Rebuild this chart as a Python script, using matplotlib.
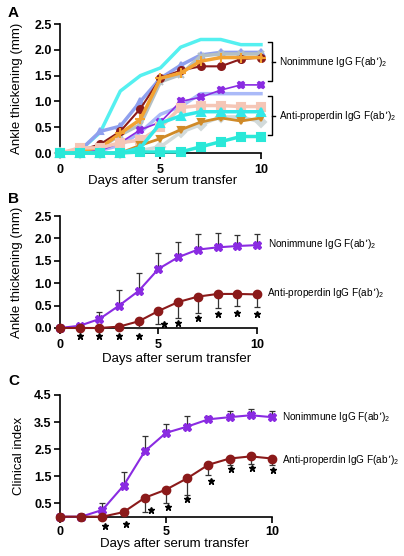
import numpy as np
import matplotlib
matplotlib.use("Agg")
import matplotlib.pyplot as plt

plt.rcParams['font.family'] = ['Liberation Sans', 'DejaVu Sans']
plt.rcParams['mathtext.default'] = 'regular'

# === Data ===
days = np.arange(0, 11)

# Panel A: individual mice (ankle thickening, mm)
a_cyan = [0, 0.05, 0.40, 1.20, 1.50, 1.65, 2.05, 2.20, 2.20, 2.10, 2.10]
a_peri = [0, 0.05, 0.42, 0.52, 1.00, 1.45, 1.70, 1.90, 1.95, 1.95, 1.95]
a_gray = [0, 0.05, 0.10, 0.35, 0.55, 1.38, 1.52, 1.88, 1.92, 1.92, 1.92]
a_red = [0, 0.05, 0.17, 0.42, 0.86, 1.45, 1.60, 1.68, 1.68, 1.82, 1.85]
a_orange = [0, 0.05, 0.10, 0.38, 0.65, 1.45, 1.55, 1.78, 1.85, 1.85, 1.85]
a_purple = [0, 0, 0.05, 0.20, 0.45, 0.60, 1.00, 1.08, 1.22, 1.32, 1.32]
a_lav = [0, 0, 0.05, 0.15, 0.40, 0.75, 0.90, 1.15, 1.15, 1.15, 1.15]
a_salmon = [0, 0.10, 0.10, 0.20, 0.25, 0.50, 0.88, 0.92, 0.92, 0.90, 0.90]
a_ltgray = [0, 0, 0, 0, 0.05, 0.12, 0.40, 0.55, 0.70, 0.70, 0.60]
a_brown = [0, 0, 0, 0, 0.15, 0.28, 0.45, 0.60, 0.68, 0.62, 0.68]
a_cyantri = [0, 0, 0, 0, 0.10, 0.58, 0.72, 0.80, 0.80, 0.80, 0.80]
a_turq = [0, 0, 0, 0, 0.02, 0.02, 0.02, 0.12, 0.22, 0.32, 0.32]

# Panel B: mean ankle thickening
b_non = [0, 0.05, 0.20, 0.50, 0.83, 1.32, 1.58, 1.75, 1.80, 1.83, 1.85]
b_non_err = [0, 0, 0.15, 0.35, 0.39, 0.35, 0.34, 0.35, 0.32, 0.25, 0.25]
b_anti = [0, 0, 0, 0.03, 0.15, 0.38, 0.58, 0.70, 0.76, 0.76, 0.75]
b_anti_err = [0, 0, 0, 0, 0.15, 0.28, 0.35, 0.37, 0.31, 0.28, 0.28]
b_star_x = [1, 2, 3, 4, 5.3, 6, 7, 8, 9, 10]
b_star_y = [-0.17, -0.17, -0.17, -0.17, 0.09, 0.11, 0.22, 0.31, 0.33, 0.31]

# Panel C: clinical index
c_non = [0, 0, 0.25, 1.15, 2.42, 3.10, 3.33, 3.60, 3.68, 3.75, 3.68]
c_non_err = [0, 0, 0.25, 0.50, 0.55, 0.32, 0.39, 0.13, 0.22, 0.25, 0.22]
c_anti = [0, 0, 0, 0.17, 0.70, 1.00, 1.42, 1.92, 2.15, 2.23, 2.15]
c_anti_err = [0, 0, 0, 0, 0.52, 0.48, 0.62, 0.37, 0.25, 0.28, 0.25]
c_star_x = [2.1, 3.1, 4.3, 5.1, 6.0, 7.1, 8.05, 9.05, 10.05]
c_star_y = [-0.33, -0.28, 0.23, 0.37, 0.65, 1.33, 1.75, 1.80, 1.73]

lab_non = "Nonimmune IgG F(ab\u2019)$_2$"
lab_anti = "Anti-properdin IgG F(ab\u2019)$_2$"

PURPLE = '#8a2be2'
DARKRED = '#8b1a1a'

fig = plt.figure(figsize=(4.04, 5.56), dpi=100)
axA = fig.add_axes([0.1485, 0.7248, 0.4975, 0.232])
axB = fig.add_axes([0.1485, 0.4101, 0.4876, 0.2014])
axC = fig.add_axes([0.1485, 0.0707, 0.5248, 0.2189])


def style_axis(ax, ymax, yticks, pad_x):
    for s in ['top', 'right']:
        ax.spines[s].set_visible(False)
    for s in ['left', 'bottom']:
        ax.spines[s].set_linewidth(1.2)
    ax.set_xlim(0, 10)
    ax.set_ylim(0, ymax)
    ax.set_xticks([0, 5, 10])
    ax.set_yticks(yticks)
    ax.yaxis.set_major_formatter(matplotlib.ticker.FormatStrFormatter('%.1f'))
    ax.tick_params(axis='both', direction='out', length=4, width=1.2,
                   labelsize=9)
    ax.tick_params(axis='y', pad=2)
    ax.tick_params(axis='x', pad=pad_x)
    for t in ax.get_xticklabels() + ax.get_yticklabels():
        t.set_fontweight('bold')


# === Panel A ===
series_a = [
    (a_lav, '#aabaf8', None, 2.5, 5),
    (a_cyan, '#55f0f0', None, 2.5, 5),
    (a_peri, '#8fa0ee', '^', 2.5, 5),
    (a_gray, '#b4c0c4', 'x', 2.5, 5),
    (a_red, DARKRED, 'o', 1.5, 5),
    (a_orange, '#f2a232', '+', 2.5, 7),
    (a_purple, PURPLE, 'X', 1.2, 5),
    (a_salmon, '#f5c6b6', 's', 2.5, 6),
    (a_ltgray, '#d2dada', 'D', 2.5, 5),
    (a_brown, '#d08a28', 'v', 2.0, 4),
    (a_cyantri, '#33e8e8', '^', 2.5, 6),
    (a_turq, '#2ae8d8', 's', 2.5, 6),
]
for i, (vals, col, mk, lw, ms) in enumerate(series_a):
    axA.plot(days, vals, color=col, lw=lw, marker=mk, ms=ms, mew=1.5,
             clip_on=False, zorder=3 + i)
style_axis(axA, 2.5, np.arange(0, 2.51, 0.5), 4)
axA.set_ylabel("Ankle thickening (mm)", fontsize=9.5)
axA.set_xlabel("Days after serum transfer", fontsize=9.5)
axA.yaxis.set_label_coords(-37 / 201, 0.5)
axA.xaxis.set_label_coords(0.51, -22 / 129)


def bracket(ax, y0, y1, text):
    kw = dict(color='black', lw=1.0, clip_on=False, transform=ax.transData)
    ax.plot([10.35, 10.53, 10.53, 10.35], [y1, y1, y0, y0], **kw)
    ym = (y0 + y1) / 2
    ax.plot([10.53, 10.68], [ym, ym], **kw)
    ax.text(10.9, ym, text, fontsize=7.2, va='center', ha='left')


bracket(axA, 1.395, 2.15, lab_non)
bracket(axA, 0.35, 1.10, lab_anti)
fig.text(8 / 404, 1 - 13 / 556, "A", fontsize=11, fontweight='bold',
         va='center', ha='left')

# === Panel B ===
axB.errorbar(days, b_non, yerr=[np.zeros(11), b_non_err], color=PURPLE,
             ecolor='#333333', elinewidth=0.9, capsize=2.5, capthick=0.9,
             lw=1.5, marker='X', ms=6, clip_on=False, zorder=4)
axB.errorbar(days, b_anti, yerr=[b_anti_err, np.zeros(11)], color=DARKRED,
             ecolor='#333333', elinewidth=0.9, capsize=2.5, capthick=0.9,
             lw=1.5, marker='o', ms=6, clip_on=False, zorder=4)
axB.plot(b_star_x, b_star_y, ls='none', marker='*', ms=5, color='black',
         clip_on=False, zorder=5)
style_axis(axB, 2.5, np.arange(0, 2.51, 0.5), 4)
axB.set_ylabel("Ankle thickening (mm)", fontsize=9.5)
axB.set_xlabel("Days after serum transfer", fontsize=9.5)
axB.yaxis.set_label_coords(-37 / 197, 0.5)
axB.xaxis.set_label_coords(0.59, -25 / 112)
axB.text(10.55, 1.875, lab_non, fontsize=7.2, va='center', ha='left')
axB.text(10.5, 0.78, lab_anti, fontsize=7.2, va='center', ha='left')
fig.text(8 / 404, 1 - 199 / 556, "B", fontsize=11, fontweight='bold',
         va='center', ha='left')

# === Panel C ===
axC.errorbar(days, c_non, yerr=[np.zeros(11), c_non_err], color=PURPLE,
             ecolor='#333333', elinewidth=0.9, capsize=2.5, capthick=0.9,
             lw=1.5, marker='X', ms=6, clip_on=False, zorder=4)
axC.errorbar(days, c_anti, yerr=[c_anti_err, np.zeros(11)], color=DARKRED,
             ecolor='#333333', elinewidth=0.9, capsize=2.5, capthick=0.9,
             lw=1.5, marker='o', ms=6, clip_on=False, zorder=4)
axC.plot(c_star_x, c_star_y, ls='none', marker='*', ms=5, color='black',
         clip_on=False, zorder=5)
style_axis(axC, 4.5, np.arange(0.5, 4.51, 1.0), 3)
axC.set_ylabel("Clinical index", fontsize=9.5)
axC.set_xlabel("Days after serum transfer", fontsize=9.5)
axC.yaxis.set_label_coords(-35 / 212, 0.5)
axC.xaxis.set_label_coords(0.54, -21 / 122)
axC.text(10.45, 3.69, lab_non, fontsize=7.2, va='center', ha='left')
axC.text(10.45, 2.11, lab_anti, fontsize=7.2, va='center', ha='left')
fig.text(8 / 404, 1 - 381 / 556, "C", fontsize=11, fontweight='bold',
         va='center', ha='left')

plt.savefig("out.png", dpi=100)
